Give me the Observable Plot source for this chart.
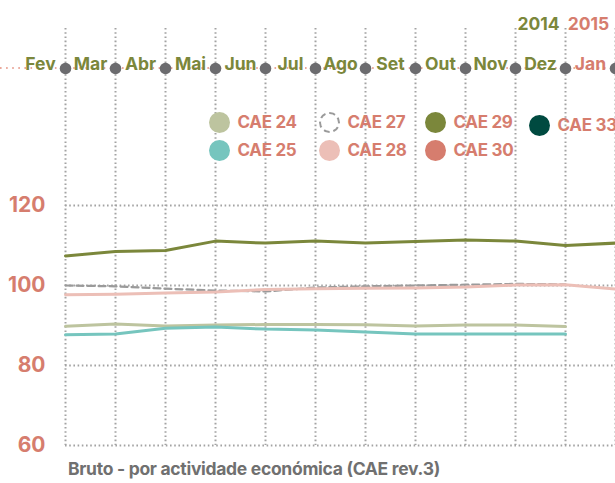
<!DOCTYPE html>
<html>
<head>
<meta charset="utf-8">
<script src="https://cdn.jsdelivr.net/npm/d3@7"></script>
<script src="https://cdn.jsdelivr.net/npm/@observablehq/plot@0.6"></script>
<style>
  html, body { margin: 0; padding: 0; background: #fff; }
  #wrap { position: relative; width: 615px; height: 483px; overflow: hidden; font-family: Inter, "Noto Sans", sans-serif; }
  #legend { position: absolute; left: 0; top: 0; }
  .item { position: absolute; display: flex; align-items: center; font-weight: 700; font-size: 17px; color: #d67d6e; letter-spacing: -0.3px; white-space: nowrap; }
  .sw { width: 21px; height: 21px; border-radius: 50%; margin-right: 8px; box-sizing: border-box; flex: none; }
  #foot { position: absolute; left: 68px; top: 458px; font-weight: 700; font-size: 17.5px; color: #707070; letter-spacing: -0.3px; white-space: nowrap; }
</style>
</head>
<body>
<div id="wrap"><div id="legend"></div><div id="foot"></div></div>
<script>
// ---- data ----
const months = ["Fev","Mar","Abr","Mai","Jun","Jul","Ago","Set","Out","Nov","Dez","Jan"];
const monthYear = [2014,2014,2014,2014,2014,2014,2014,2014,2014,2014,2014,2015];
const yearLabels = ["2014","2015"];
const yTicks = [60, 80, 100, 120];

const cae24 = [89.8, 90.4, 89.9, 90.1, 90.25, 90.25, 90.2, 89.9, 90.1, 90.1, 89.75];
const cae25 = [87.7, 87.9, 89.3, 89.6, 89.1, 88.9, 88.4, 87.9, 87.9, 87.9, 87.9];
const cae27 = [100.0, 99.8, 99.2, 98.75, 98.5, 99.5, 99.8, 100.0, 100.2, 100.4, 100.3];
const cae28 = [97.7, 97.8, 98.1, 98.4, 99.0, 99.2, 99.3, 99.4, 99.6, 100.1, 100.2, 99.1];
const cae29 = [107.4, 108.5, 108.75, 111.1, 110.6, 111.1, 110.6, 111.0, 111.4, 111.1, 110.0, 110.6];
const cae30 = [];
const cae33 = [];

const seriesNames = ["CAE 24","CAE 25","CAE 27","CAE 28","CAE 29","CAE 30","CAE 33"];
const seriesValues = [cae24, cae25, cae27, cae28, cae29, cae30, cae33];
const seriesColors = ["#bdc49f","#76c5be","#9a9a9a","#ecbfb7","#7b873b","#d67d6e","#004a40"];

const olive = "#7b873b", salmon = "#d67d6e", grid = "#a3a3a3";

// ---- tidy table ----
const rows = [];
seriesNames.forEach((name, s) => seriesValues[s].forEach((v, i) => rows.push({series: name, i, v})));
const solid = rows.filter(d => d.series !== "CAE 27");
const dashed = rows.filter(d => d.series === "CAE 27");
const idx = months.map((m, i) => i);
const lastIdx = months.map((m, i) => i).filter(i => i === months.length - 1 || monthYear[i + 1] !== monthYear[i]);

const colorOf = Object.fromEntries(seriesNames.map((n, i) => [n, seriesColors[i]]));

// pink dotted timeline through the month markers
function timeline(index, scales, values, dims) {
  const y = dims.marginTop + 40;
  const line = d3.create("svg:line")
    .attr("x1", 0).attr("x2", dims.width).attr("y1", y).attr("y2", y)
    .attr("stroke", "#eaa89b").attr("stroke-width", 2.2)
    .attr("stroke-dasharray", "1.6,4.5").attr("stroke-linecap", "butt");
  return line.node();
}

const chart = Plot.plot({
  width: 615,
  height: 483,
  marginTop: 28,
  marginBottom: 38,
  marginLeft: 65,
  marginRight: 0,
  style: {fontFamily: "Inter, 'Noto Sans', sans-serif", background: "transparent", overflow: "visible"},
  x: {domain: [0, months.length - 1], axis: null},
  y: {domain: [60, 164.25], axis: null},
  marks: [
    Plot.ruleX(idx, {x: d => d, stroke: grid, strokeWidth: 2, strokeDasharray: "1.6,2.6"}),
    Plot.ruleY(yTicks, {y: d => d, stroke: grid, strokeWidth: 2, strokeDasharray: "1.6,2.6"}),
    timeline,
    Plot.dot(idx, {x: d => d, frameAnchor: "top", dy: 40, r: 5.8, fill: "#6c6c6f"}),
    Plot.text(idx, {x: d => d, text: d => months[d], frameAnchor: "top", dy: 29, dx: -25,
      fill: d => monthYear[d] === 2014 ? olive : salmon, fontSize: 17.5, fontWeight: 700, letterSpacing: -0.3}),
    Plot.text(lastIdx, {x: d => d, text: (d, k) => yearLabels[k], frameAnchor: "top", dy: -11, dx: -27,
      fill: d => monthYear[d] === 2014 ? olive : salmon, fontSize: 17.5, fontWeight: 700}),
    Plot.text(yTicks, {y: d => d, text: d => String(d), frameAnchor: "left", dx: -20, textAnchor: "end",
      fill: salmon, fontSize: 21, fontWeight: 700}),
    Plot.line(dashed, {x: "i", y: "v", z: "series", stroke: "#9a9a9a", strokeWidth: 2.2, strokeDasharray: "7,4"}),
    Plot.line(solid, {x: "i", y: "v", z: "series", stroke: d => colorOf[d.series], strokeWidth: 3})
  ]
});
document.getElementById("wrap").prepend(chart);

// ---- legend ----
const legendCols = [208.5, 318.5, 424.5, 528.5];
const legendRows = [111.5, 139.5];
const legendPlace = {"CAE 24": [0,0], "CAE 25": [0,1], "CAE 27": [1,0], "CAE 28": [1,1], "CAE 29": [2,0], "CAE 30": [2,1], "CAE 33": [3,0]};
const leg = d3.select("#legend");
seriesNames.forEach((n, i) => {
  const [c, r] = legendPlace[n];
  const it = leg.append("div").attr("class", "item")
    .style("left", legendCols[c] + "px")
    .style("top", (legendRows[r] + (n === "CAE 33" ? 3 : 0)) + "px");
  const sw = it.append("div").attr("class", "sw");
  if (n === "CAE 27") sw.style("border", "2px dashed #9a9a9a").style("background", "transparent");
  else sw.style("background", seriesColors[i]);
  it.append("span").text(n);
});
document.getElementById("foot").textContent = "Bruto - por actividade económica (CAE rev.3)";
</script>
</body>
</html>
